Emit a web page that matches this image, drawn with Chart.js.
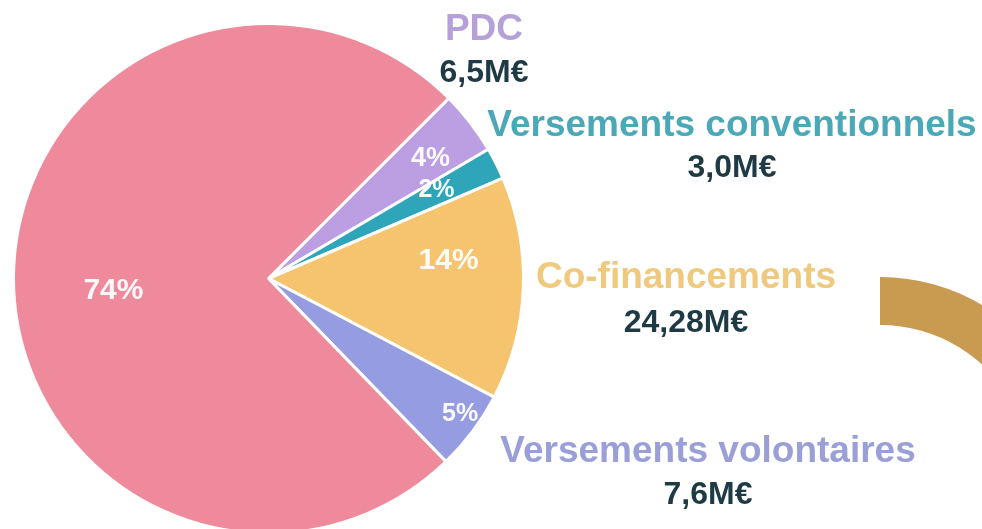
<!DOCTYPE html>
<html>
<head>
<meta charset="utf-8">
<script src="https://cdn.jsdelivr.net/npm/chart.js@4"></script>
<style>
  html, body { margin:0; padding:0; background:#fff; width:982px; height:529px; overflow:hidden; position:relative; }
  #pie { position:absolute; left:0; top:0; }
  #ring { position:absolute; left:680px; top:277px; }
</style>
</head>
<body>
<canvas id="ring" width="400" height="400"></canvas>
<canvas id="pie" width="982" height="540"></canvas>
<script>
/* ---------------------------
   Data
   --------------------------- */
const categories = ['PDC', 'Versements conventionnels', 'Co-financements', 'Versements volontaires', ''];
const percents   = [4, 2, 14, 5, 74];
const amounts    = ['6,5M€', '3,0M€', '24,28M€', '7,6M€', ''];
const ringValues = [35, 65];

/* colours */
const sliceColors = ['#bb9fe2', '#2ea5b9', '#f6c46e', '#959ce2', '#ee8a9c'];
const nameColors  = ['#b5a0d8', '#4aa8b7', '#efc97e', '#9a9fd8', ''];
const amountColor = '#1e3a45';

/* label placement: percent inside slices (fraction of radius, angle shift in deg, font px) */
const pctPlace = [
  { r:0.79, da: 1.3, size:27 },
  { r:0.745, da:-1,  size:25 },
  { r:0.71, da:-8,   size:30 },
  { r:0.92, da:-1.6, size:25 },
  { r:0.61, da:-5,   size:30 }
];
/* outside labels: centre of name line and of amount line */
const outPlace = [
  { x:484, y:30,  ay:73 },
  { x:732, y:126, ay:168 },
  { x:686, y:278, ay:323 },
  { x:708, y:452, ay:495 },
  null
];

const FONT = '"Liberation Sans", Arial, Helvetica, sans-serif';

/* ---------------------------
   Label plugin
   --------------------------- */
const sliceLabels = {
  id: 'sliceLabels',
  afterDatasetsDraw(chart) {
    const ctx = chart.ctx;
    const meta = chart.getDatasetMeta(0);
    ctx.save();
    ctx.textAlign = 'center';
    ctx.textBaseline = 'middle';
    meta.data.forEach((arc, i) => {
      const p = arc.getProps(['x', 'y', 'startAngle', 'endAngle', 'outerRadius'], true);
      const pl = pctPlace[i];
      const a = (p.startAngle + p.endAngle) / 2 + pl.da * Math.PI / 180;
      const r = p.outerRadius * pl.r;
      ctx.font = `bold ${pl.size}px ${FONT}`;
      ctx.fillStyle = 'rgba(255,255,255,0.95)';
      ctx.fillText(percents[i] + '%', p.x + Math.cos(a) * r, p.y + Math.sin(a) * r);

      const o = outPlace[i];
      if (!o) return;
      ctx.font = `bold 37px ${FONT}`;
      ctx.fillStyle = nameColors[i];
      ctx.fillText(categories[i], o.x, o.y);
      ctx.font = `bold 32px ${FONT}`;
      ctx.fillStyle = amountColor;
      ctx.fillText(amounts[i], o.x, o.ay);
    });
    ctx.restore();
  }
};

/* ---------------------------
   Charts
   --------------------------- */
new Chart(document.getElementById('ring').getContext('2d'), {
  type: 'doughnut',
  data: {
    labels: ['', ''],
    datasets: [{ data: ringValues, backgroundColor: ['#c89b50', 'rgba(0,0,0,0)'], borderWidth: 0 }]
  },
  options: {
    responsive: false,
    animation: false,
    devicePixelRatio: 1,
    cutout: '76%',
    plugins: { legend: { display:false }, tooltip: { enabled:false } }
  }
});

new Chart(document.getElementById('pie').getContext('2d'), {
  type: 'pie',
  data: {
    labels: categories,
    datasets: [{
      data: percents,
      backgroundColor: sliceColors,
      borderColor: '#ffffff',
      borderWidth: 3
    }]
  },
  options: {
    responsive: false,
    animation: false,
    devicePixelRatio: 1,
    rotation: 45,
    layout: { padding: { left:12, top:22, right:457, bottom:5 } },
    plugins: { legend: { display:false }, tooltip: { enabled:false } }
  },
  plugins: [sliceLabels]
});
</script>
</body>
</html>
